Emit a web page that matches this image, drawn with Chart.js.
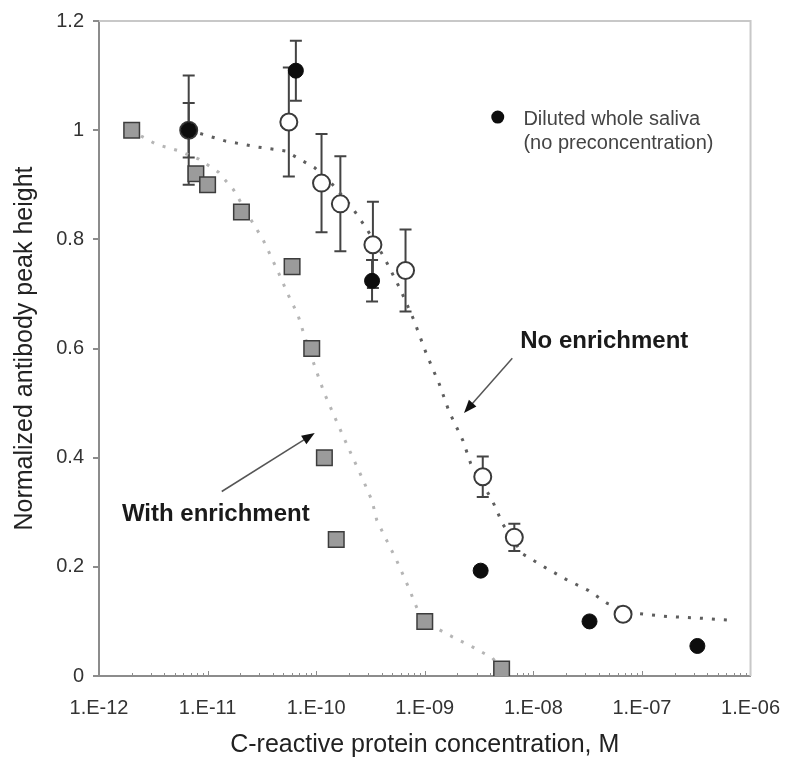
<!DOCTYPE html>
<html>
<head>
<meta charset="utf-8">
<script src="https://cdn.jsdelivr.net/npm/chart.js@4/dist/chart.umd.min.js"></script>
<style>
  html, body { margin: 0; padding: 0; background: #fff; }
  #wrap { width: 800px; height: 767px; }
</style>
</head>
<body>
<div id="wrap"><canvas id="graph" width="800" height="767"></canvas></div>
<script>
// axis ticks
var xTickValues = [1e-12, 1e-11, 1e-10, 1e-9, 1e-8, 1e-7, 1e-6];
var xTickLabels = ['1.E-12', '1.E-11', '1.E-10', '1.E-09', '1.E-08', '1.E-07', '1.E-06'];
var yTickValues = [0, 0.2, 0.4, 0.6, 0.8, 1, 1.2];
var yTickLabels = ['0', '0.2', '0.4', '0.6', '0.8', '1', '1.2'];

// with enrichment (grey squares)
var enrichConc = [2e-12, 7.8e-12, 1e-11, 2.05e-11, 6e-11, 9.1e-11, 1.19e-10, 1.53e-10, 1e-9, 5.1e-9];
var enrichHeight = [1.0, 0.92, 0.90, 0.85, 0.75, 0.60, 0.40, 0.25, 0.10, 0.013];

// no enrichment (open circles) + error
var plainConc = [6.7e-12, 5.6e-11, 1.12e-10, 1.67e-10, 3.33e-10, 6.65e-10, 3.42e-9, 6.68e-9, 6.7e-8];
var plainHeight = [1.0, 1.015, 0.903, 0.865, 0.79, 0.743, 0.365, 0.254, 0.113];
var plainErr = [0.1, 0.1, 0.09, 0.087, 0.079, 0.075, 0.037, 0.025, 0];

// diluted whole saliva (black dots) + error
var salivaConc = [6.7e-12, 6.5e-11, 3.27e-10, 3.27e-9, 3.29e-8, 3.24e-7];
var salivaHeight = [1.0, 1.109, 0.724, 0.193, 0.10, 0.055];
var salivaErr = [0.05, 0.055, 0.038, 0, 0, 0];

// dotted fit curves
var plainFitConc = [6.7e-12, 1.47e-11, 2.9e-11, 5.2e-11, 9.7e-11, 1.35e-10, 2.06e-10, 2.88e-10, 4.2e-10, 5.9e-10, 7.9e-10, 1.04e-9, 1.36e-9, 1.67e-9, 2.25e-9, 2.65e-9, 4.2e-9, 5.2e-9, 7.9e-9, 1.28e-8, 2.0e-8, 3.2e-8, 4.8e-8, 8.5e-8, 1.7e-7, 3.4e-7, 6.6e-7];
var plainFitHeight = [1.0, 0.980, 0.969, 0.962, 0.931, 0.905, 0.863, 0.821, 0.768, 0.710, 0.653, 0.589, 0.535, 0.485, 0.431, 0.389, 0.321, 0.279, 0.224, 0.199, 0.177, 0.157, 0.133, 0.115, 0.109, 0.106, 0.102];
var enrichFitConc = [1.95e-12, 3.37e-12, 5.47e-12, 8.3e-12, 1.26e-11, 1.73e-11, 2.47e-11, 3.25e-11, 4.45e-11, 5.5e-11, 6.78e-11, 7.83e-11, 9.9e-11, 1.19e-10, 1.44e-10, 1.74e-10, 2.14e-10, 2.65e-10, 3.27e-10, 3.62e-10, 4.47e-10, 5.5e-10, 7.1e-10, 8.4e-10, 9.9e-10, 1.67e-9, 2.77e-9, 4.2e-9, 5.1e-9];
var enrichFitHeight = [1.0, 0.974, 0.962, 0.947, 0.923, 0.891, 0.838, 0.799, 0.741, 0.699, 0.662, 0.622, 0.562, 0.518, 0.480, 0.443, 0.403, 0.363, 0.321, 0.285, 0.248, 0.212, 0.162, 0.126, 0.100, 0.075, 0.053, 0.033, 0.013];

// annotations (data units)
var noteLabels = ['No enrichment', 'With enrichment'];
var noteTextAt = [[4.5e-8, 0.613], [1.19e-11, 0.297]];
var noteArrowFrom = [[6.4e-9, 0.582], [1.35e-11, 0.338]];
var noteArrowTo = [[2.3e-9, 0.482], [9.7e-11, 0.445]];
var legendLines = ['Diluted whole saliva', '(no preconcentration)'];
var legendDotAt = [4.7e-9, 1.024];
var legendTextAt = [8.1e-9, 1.020];

function pts(xs, ys) {
  return xs.map(function(x, i) { return {x: x, y: ys[i]}; });
}

Chart.defaults.font.family = '"Liberation Sans", Arial, sans-serif';
Chart.defaults.color = '#333';

var extras = {
  id: 'extras',
  beforeDatasetsDraw: function(chart) {
    var ctx = chart.ctx, xs = chart.scales.x, ys = chart.scales.y, a = chart.chartArea;
    ctx.save();
    // light frame top/right
    ctx.strokeStyle = '#c8c8c8';
    ctx.lineWidth = 2;
    ctx.beginPath();
    ctx.moveTo(a.left, a.top);
    ctx.lineTo(a.right, a.top);
    ctx.lineTo(a.right, a.bottom);
    ctx.stroke();

    // inside minor ticks of the log axis
    ctx.strokeStyle = '#8c8c8c';
    ctx.lineWidth = 1;
    for (var d = 0; d < xTickValues.length - 1; d++) {
      for (var m = 1; m < 10; m++) {
        var px = Math.round(xs.getPixelForValue(xTickValues[d] * m)) + 0.5;
        ctx.beginPath();
        ctx.moveTo(px, a.bottom);
        ctx.lineTo(px, a.bottom - (m === 1 ? 5 : 3));
        ctx.stroke();
      }
    }

    // error bars
    ctx.strokeStyle = '#444';
    ctx.lineWidth = 2;
    function bars(cx, cy, err) {
      cx.forEach(function(x, i) {
        if (!err[i]) return;
        var px = xs.getPixelForValue(x);
        var top = ys.getPixelForValue(cy[i] + err[i]);
        var bot = ys.getPixelForValue(cy[i] - err[i]);
        ctx.beginPath();
        ctx.moveTo(px, top); ctx.lineTo(px, bot);
        ctx.moveTo(px - 6, top); ctx.lineTo(px + 6, top);
        ctx.moveTo(px - 6, bot); ctx.lineTo(px + 6, bot);
        ctx.stroke();
      });
    }
    bars(plainConc, plainHeight, plainErr);
    bars(salivaConc, salivaHeight, salivaErr);
    ctx.restore();
  },
  afterDatasetsDraw: function(chart) {
    var ctx = chart.ctx, xs = chart.scales.x, ys = chart.scales.y;
    ctx.save();
    // arrows + bold labels
    noteLabels.forEach(function(txt, i) {
      var x0 = xs.getPixelForValue(noteArrowFrom[i][0]), y0 = ys.getPixelForValue(noteArrowFrom[i][1]);
      var x1 = xs.getPixelForValue(noteArrowTo[i][0]), y1 = ys.getPixelForValue(noteArrowTo[i][1]);
      var ang = Math.atan2(y1 - y0, x1 - x0);
      ctx.strokeStyle = '#555';
      ctx.lineWidth = 1.5;
      ctx.beginPath();
      ctx.moveTo(x0, y0);
      ctx.lineTo(x1 - 10 * Math.cos(ang), y1 - 10 * Math.sin(ang));
      ctx.stroke();
      ctx.fillStyle = '#111';
      ctx.beginPath();
      ctx.moveTo(x1, y1);
      ctx.lineTo(x1 - 13 * Math.cos(ang) + 5 * Math.sin(ang), y1 - 13 * Math.sin(ang) - 5 * Math.cos(ang));
      ctx.lineTo(x1 - 13 * Math.cos(ang) - 5 * Math.sin(ang), y1 - 13 * Math.sin(ang) + 5 * Math.cos(ang));
      ctx.closePath();
      ctx.fill();

      ctx.font = 'bold 24px "Liberation Sans", Arial, sans-serif';
      ctx.fillStyle = '#1a1a1a';
      ctx.textAlign = 'center';
      ctx.textBaseline = 'middle';
      ctx.fillText(txt, xs.getPixelForValue(noteTextAt[i][0]), ys.getPixelForValue(noteTextAt[i][1]));
    });

    // legend for the black dots
    ctx.fillStyle = '#0d0d0d';
    ctx.beginPath();
    ctx.arc(xs.getPixelForValue(legendDotAt[0]), ys.getPixelForValue(legendDotAt[1]), 6.5, 0, Math.PI * 2);
    ctx.fill();
    ctx.font = '20px "Liberation Sans", Arial, sans-serif';
    ctx.fillStyle = '#444';
    ctx.textAlign = 'left';
    ctx.textBaseline = 'middle';
    var lx = xs.getPixelForValue(legendTextAt[0]), ly = ys.getPixelForValue(legendTextAt[1]);
    legendLines.forEach(function(l, i) { ctx.fillText(l, lx, ly + i * 24); });
    ctx.restore();
  }
};

var ctx = document.getElementById('graph').getContext('2d');
var chart = new Chart(ctx, {
  type: 'scatter',
  data: {
    datasets: [
      {
        label: 'Diluted whole saliva',
        data: pts(salivaConc, salivaHeight),
        pointStyle: 'circle',
        pointRadius: 7.5,
        backgroundColor: '#0d0d0d',
        borderColor: '#0d0d0d',
        borderWidth: 1,
        order: 0
      },
      {
        label: 'No enrichment',
        data: pts(plainConc, plainHeight),
        pointStyle: 'circle',
        pointRadius: 8.5,
        backgroundColor: '#fff',
        borderColor: '#3a3a3a',
        borderWidth: 2,
        order: 1
      },
      {
        label: 'With enrichment',
        data: pts(enrichConc, enrichHeight),
        pointStyle: 'rect',
        pointRadius: 11,
        backgroundColor: '#9b9b9b',
        borderColor: '#3c3c3c',
        borderWidth: 1.5,
        order: 2
      },
      {
        label: 'No enrichment fit',
        data: pts(plainFitConc, plainFitHeight),
        showLine: true,
        pointRadius: 0,
        borderColor: '#5e5e5e',
        borderWidth: 3,
        borderDash: [3, 9],
        tension: 0,
        order: 5
      },
      {
        label: 'With enrichment fit',
        data: pts(enrichFitConc, enrichFitHeight),
        showLine: true,
        pointRadius: 0,
        borderColor: '#b5b5b5',
        borderWidth: 3,
        borderDash: [3, 9],
        tension: 0,
        order: 6
      }
    ]
  },
  options: {
    responsive: false,
    animation: false,
    layout: { padding: { left: 0, right: 42, top: 19, bottom: 0 } },
    plugins: {
      legend: { display: false },
      tooltip: { enabled: false }
    },
    scales: {
      x: {
        type: 'logarithmic',
        min: 1e-12,
        max: 1e-6,
        afterBuildTicks: function(scale) {
          scale.ticks = xTickValues.map(function(v) { return {value: v}; });
        },
        afterFit: function(scale) { scale.height = 91; },
        ticks: {
          autoSkip: false,
          maxRotation: 0,
          padding: 20,
          color: '#333',
          font: { size: 20 },
          callback: function(v, i) { return xTickLabels[i]; }
        },
        grid: { drawOnChartArea: false, drawTicks: false },
        border: { color: '#8c8c8c', width: 2 },
        title: {
          display: true,
          text: 'C-reactive protein concentration, M',
          color: '#222',
          font: { size: 25 },
          padding: { top: 0, bottom: 7 }
        }
      },
      y: {
        min: 0,
        max: 1.2,
        afterBuildTicks: function(scale) {
          scale.ticks = yTickValues.map(function(v) { return {value: v}; });
        },
        afterFit: function(scale) { scale.width = 99; },
        ticks: {
          padding: 9,
          color: '#333',
          font: { size: 20 },
          callback: function(v, i) { return yTickLabels[i]; }
        },
        grid: { drawOnChartArea: false, drawTicks: true, tickLength: 6, color: '#8c8c8c', lineWidth: 2 },
        border: { color: '#8c8c8c', width: 2 },
        title: {
          display: true,
          text: 'Normalized antibody peak height',
          color: '#222',
          font: { size: 25 },
          padding: { top: 10, bottom: 0 }
        }
      }
    }
  },
  plugins: [extras]
});
</script>
</body>
</html>
